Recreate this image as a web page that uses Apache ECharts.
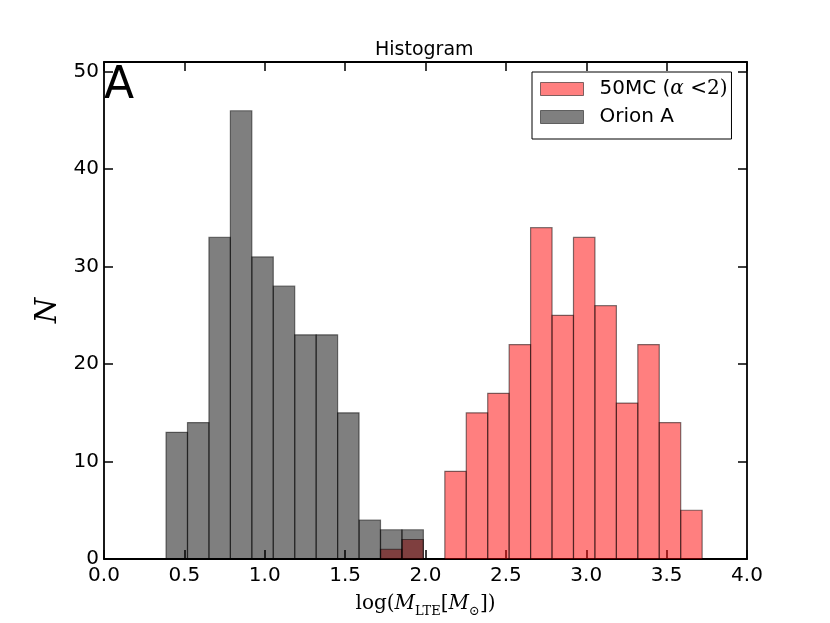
<!DOCTYPE html>
<html>
<head>
<meta charset="utf-8">
<script src="https://cdn.jsdelivr.net/npm/echarts@6/dist/echarts.min.js"></script>
<style>
html,body{margin:0;padding:0;background:#fff;}
#chart{width:830px;height:623px;}
</style>
</head>
<body>
<div id="chart"></div>
<script>
// ---- data ----
const binWidth = 0.1334;
const redName = '50MC';
const redStart = 1.72;               // left edge of first 50MC bin
const redCounts = [1, 2, 0, 9, 15, 17, 22, 34, 25, 33, 26, 16, 22, 14, 5];
const grayName = 'Orion A';
const grayStart = 0.386;             // left edge of first Orion A bin
const grayCounts = [13, 14, 33, 46, 31, 28, 23, 23, 15, 4, 3, 3];
const xTicks = [0.0, 0.5, 1.0, 1.5, 2.0, 2.5, 3.0, 3.5, 4.0];
const yTicks = [0, 10, 20, 30, 40, 50];

function toBins(start, counts) {
  return counts.map((c, i) => [start + i * binWidth, start + (i + 1) * binWidth, c]);
}
function makeRender(fill) {
  return function (params, api) {
    const x0 = api.value(0), x1 = api.value(1), y = api.value(2);
    if (!y) return null;
    const p0 = api.coord([x0, 0]);
    const p1 = api.coord([x1, y]);
    return {
      type: 'rect',
      shape: { x: p0[0], y: p1[1], width: p1[0] - p0[0], height: p0[1] - p1[1] },
      style: { fill: fill, stroke: 'rgba(0,0,0,0.5)', lineWidth: 1.2 }
    };
  };
}

const RED = 'rgba(255,0,0,0.5)';
const GRAY = 'rgba(0,0,0,0.5)';
const SANS = 'DejaVu Sans';
const SERIF = 'DejaVu Serif';

const axisCommon = {
  type: 'value',
  axisLine: { show: true, onZero: false, lineStyle: { color: '#000', width: 1.8 } },
  axisTick: { show: true, inside: true, length: 9, lineStyle: { color: '#000', width: 1.5 } },
  splitLine: { show: false }
};

const chart = echarts.init(document.getElementById('chart'));
chart.setOption({
  animation: false,
  backgroundColor: '#fff',
  title: {
    text: 'Histogram', left: 370, top: 36,
    textStyle: { fontFamily: SANS, fontSize: 19, fontWeight: 'normal', color: '#000' }
  },
  grid: { left: 104, width: 643, top: 62, height: 500 },
  legend: {
    orient: 'vertical', left: 532, top: 72,
    padding: [7, 4, 12, 8], itemGap: 8,
    itemWidth: 43, itemHeight: 13,
    borderColor: '#000', borderWidth: 1, backgroundColor: '#fff',
    icon: 'rect',
    data: [
      { name: redName, itemStyle: { color: RED, borderColor: 'rgba(0,0,0,0.5)', borderWidth: 1 } },
      { name: grayName, itemStyle: { color: GRAY, borderColor: 'rgba(0,0,0,0.5)', borderWidth: 1 } }
    ],
    formatter: function (n) {
      if (n === redName) return '{s|50MC (}{g|α}{m| <2)}';
      return '{s|' + n + '}';
    },
    textStyle: {
      padding: [0, 0, 0, 11],
      rich: {
        s: { fontFamily: SANS, fontSize: 20, color: '#000', lineHeight: 22 },
        g: { fontFamily: SERIF, fontStyle: 'italic', fontSize: 20, color: '#000', lineHeight: 22 },
        m: { fontFamily: SERIF, fontSize: 20, color: '#000', lineHeight: 22 }
      }
    }
  },
  xAxis: [
    Object.assign({}, axisCommon, {
      position: 'bottom', min: xTicks[0], max: xTicks[xTicks.length - 1], interval: 0.5,
      axisLabel: { color: '#000', fontFamily: SANS, fontSize: 20, margin: 7,
        formatter: v => v.toFixed(1) },
      name: '{t|log(}{i|M}{b|LTE}{t|[}{i|M}{b|⊙}{t|])}',
      nameLocation: 'middle', nameGap: 31,
      nameTextStyle: {
        rich: {
          t: { fontFamily: SERIF, fontSize: 20, color: '#000', lineHeight: 28, verticalAlign: 'middle' },
          i: { fontFamily: SERIF, fontStyle: 'italic', fontSize: 20, color: '#000', lineHeight: 28, verticalAlign: 'middle' },
          b: { fontFamily: SERIF, fontSize: 13, color: '#000', lineHeight: 13, verticalAlign: 'bottom' }
        }
      }
    }),
    Object.assign({}, axisCommon, {
      position: 'top', min: xTicks[0], max: xTicks[xTicks.length - 1], interval: 0.5,
      axisLabel: { show: false }
    })
  ],
  yAxis: [
    Object.assign({}, axisCommon, {
      position: 'left', min: 0, max: 51, interval: 10,
      axisLabel: { color: '#000', fontFamily: SANS, fontSize: 20, margin: 5, showMaxLabel: false,
        formatter: v => (yTicks.indexOf(v) >= 0 ? String(v) : '') },
      name: 'N', nameLocation: 'middle', nameGap: 39, nameRotate: 90,
      nameTextStyle: { fontFamily: SERIF, fontStyle: 'italic', fontSize: 29, color: '#000' }
    }),
    Object.assign({}, axisCommon, {
      position: 'right', min: 0, max: 51, interval: 10,
      axisLabel: { show: false }
    })
  ],
  graphic: [{
    type: 'text', left: 104, top: 65,
    style: { text: 'A', font: '44px "DejaVu Sans"', fill: '#000' }
  }],
  series: [
    {
      name: redName, type: 'custom', renderItem: makeRender(RED),
      itemStyle: { color: RED },
      encode: { x: [0, 1], y: 2 }, data: toBins(redStart, redCounts), clip: true
    },
    {
      name: grayName, type: 'custom', renderItem: makeRender(GRAY),
      itemStyle: { color: GRAY },
      encode: { x: [0, 1], y: 2 }, data: toBins(grayStart, grayCounts), clip: true
    }
  ]
});
</script>
</body>
</html>
